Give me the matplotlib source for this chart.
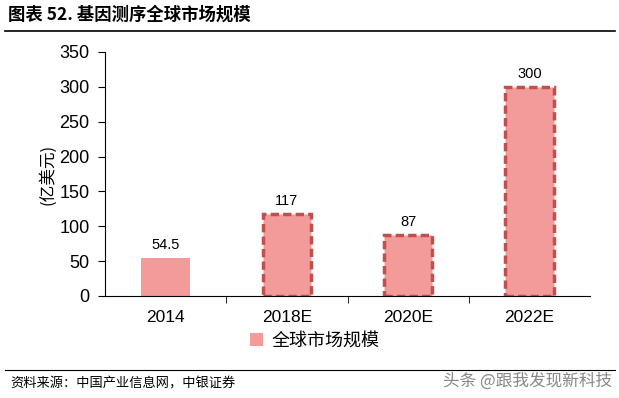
import matplotlib
matplotlib.use("Agg")
import matplotlib.pyplot as plt
from matplotlib.patches import Patch
from matplotlib.lines import Line2D

plt.rcParams['font.family'] = ['Liberation Sans', 'Noto Sans CJK SC', 'DejaVu Sans']

categories = ["2014", "2018E", "2020E", "2022E"]
values = [54.5, 117, 87, 300]
labels = ["54.5", "117", "87", "300"]
dashed = [False, True, True, True]
yticks = [0, 50, 100, 150, 200, 250, 300, 350]

fill = '#F39A9B'
edge = '#C0504D'
cjk = ['Noto Sans CJK SC', 'DejaVu Sans']

fig = plt.figure(figsize=(6.19, 3.98), dpi=100)
ax = fig.add_axes([105/619, 1-296/398, (590-105)/619, (296-52)/398])

x = list(range(len(categories)))
for xi, v, d, lab in zip(x, values, dashed, labels):
    if d:
        ax.bar(xi, v, width=0.4, color=fill, edgecolor=edge, linewidth=2.5, linestyle=(0, (2.4, 1.2)), zorder=2)
    else:
        ax.bar(xi, v, width=0.4, color=fill, edgecolor='none', zorder=2)
    ax.text(xi, v + 9, lab, ha='center', va='bottom', fontsize=10.5, color='black')

ax.set_xlim(-0.5, len(categories) - 0.5)
ax.set_ylim(0, 350)
ax.set_yticks(yticks)
ax.set_yticklabels([str(t) for t in yticks], fontsize=13)
ax.set_xticks(x)
ax.set_xticklabels(categories, fontsize=12.5)
ax.tick_params(axis='x', length=0, pad=10)
ax.set_xticks([i + 0.5 for i in x[:-1]], minor=True)
ax.tick_params(axis='x', which='minor', length=5, direction='out', color='black')
ax.tick_params(axis='y', length=5, direction='out', pad=6, color='black')
for s in ['top', 'right']:
    ax.spines[s].set_visible(False)
ax.spines['left'].set_color('black')
ax.spines['bottom'].set_color('black')
ax.spines['left'].set_linewidth(0.8)
ax.spines['bottom'].set_linewidth(0.8)

ax.set_ylabel('(亿美元)', family=cjk, fontsize=12, labelpad=2)

# legend
handle = Patch(facecolor=fill, edgecolor='none')
fig.legend([handle], ['全球市场规模'], loc='center', bbox_to_anchor=(315/619, 1-341/398),
           frameon=False, prop={'family': cjk, 'size': 13}, handlelength=0.7, handleheight=0.7,
           handletextpad=0.5)

# title
fig.text(8/619, 1-15/398, '图表 52. 基因测序全球市场规模', family=cjk, fontsize=12.5,
         fontweight='bold', va='center', ha='left')
fig.add_artist(Line2D([5/619, 615/619], [1-31/398, 1-31/398], color='black', linewidth=1.2))
fig.add_artist(Line2D([5/619, 615/619], [1-370/398, 1-370/398], color='black', linewidth=0.8))
fig.text(10/619, 1-384/398, '资料来源：中国产业信息网，中银证券', family=cjk, fontsize=9.5,
         style='italic', va='center', ha='left')
fig.text(612/619, 1-381/398, '头条 @跟我发现新科技', family=cjk, fontsize=12,
         color='#888888', va='center', ha='right')

fig.savefig('out.png', dpi=100)
